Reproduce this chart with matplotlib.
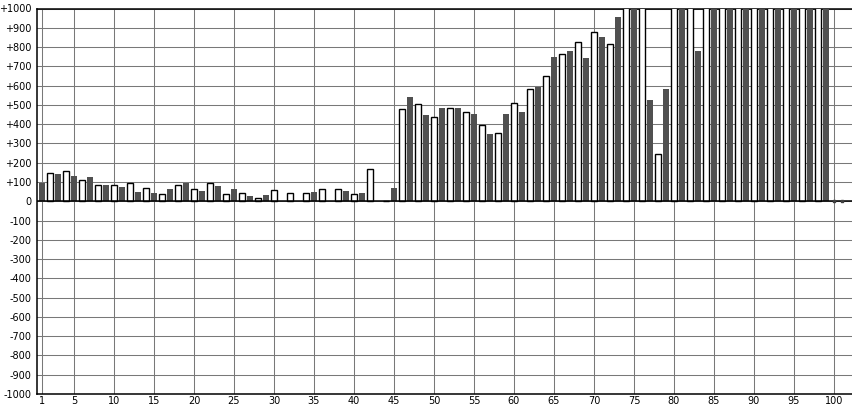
import matplotlib.pyplot as plt

# bar values for x = 1..99 (odd = dark series, even = white series)
# values above 1000 run off the top of the chart
values = [
    97, 145, 142, 155, 131, 109, 124, 83, 83, 83,
    73, 93, 47, 67, 41, 36, 62, 83, 97, 62,
    52, 97, 78, 36, 62, 41, 26, 19, 31, 57,
    0, 45, 0, 45, 47, 66, 0, 66, 52, 40,
    41, 169, 0, 0, 67, 480, 539, 506, 446, 435,
    482, 482, 482, 465, 451, 397, 347, 356, 451, 511,
    461, 584, 592, 651, 746, 765, 782, 827, 741, 879,
    850, 817, 958, 1050, 1050, 1050, 525, 244, 580, 1050,
    1050, 1050, 782, 1050, 1050, 1050, 1050, 1050, 1050, 1050,
    1050, 1050, 1050, 1050, 1050, 1050, 1050, 1050, 1050,
]
tail_x = [100, 101]
tail_vals = [0, 0]

xticks = [1] + list(range(5, 101, 5))
yticks = list(range(-1000, 1001, 100))
ylabels = [("+%d" % v if v > 0 else str(v)) for v in yticks]

x = list(range(1, len(values) + 1))
dark_x = [i for i in x if i % 2 == 1]
dark_v = [values[i - 1] for i in dark_x]
white_x = [i for i in x if i % 2 == 0]
white_v = [values[i - 1] for i in white_x]

fig = plt.figure(figsize=(8.52, 4.05), dpi=100)
ax = fig.add_axes([37 / 852, (405 - 394) / 405, 815 / 852, 385.5 / 405])

ax.bar(dark_x, dark_v, width=0.75, color="#505050", linewidth=0, zorder=3)
ax.bar(white_x, white_v, width=0.72, color="white", edgecolor="black",
       linewidth=1, zorder=3)
ax.scatter(tail_x, tail_vals, marker="s", s=3, color="#404040", zorder=6)

ax.set_xlim(0.375, 102.25)
ax.set_ylim(-1000, 1000)
ax.set_xticks(xticks)
ax.set_yticks(yticks)
ax.set_yticklabels(ylabels)
ax.tick_params(length=0, labelsize=7, colors="black")
ax.tick_params(axis="x", pad=1.5)
ax.tick_params(axis="y", pad=4)

ax.grid(True, color="#787878", linewidth=0.75, zorder=0)
ax.set_axisbelow(True)
ax.axhline(0, color="black", linewidth=1.1, zorder=5)

for side in ["left", "top", "bottom"]:
    ax.spines[side].set_color("black")
    ax.spines[side].set_linewidth(1.1)
ax.spines["right"].set_visible(False)

fig.savefig("out.png", dpi=100)
